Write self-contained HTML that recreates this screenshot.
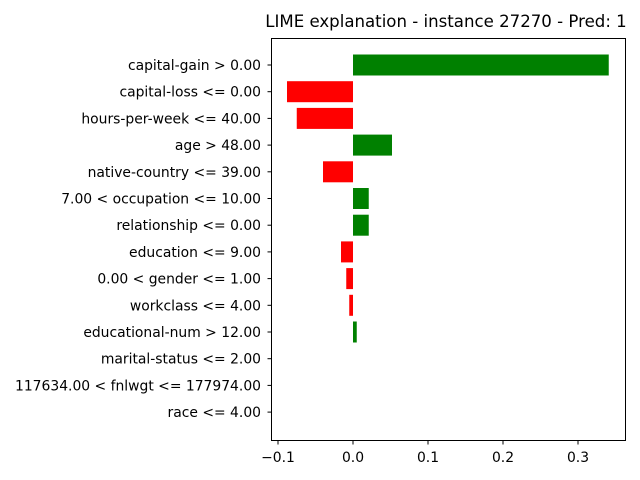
<!DOCTYPE html>
<html><head><meta charset="utf-8"><style>
html,body{margin:0;padding:0;background:#fff;}
svg{display:block;font-family:"DejaVu Sans","Liberation Sans",sans-serif;}
</style></head><body>
<svg id="chart" width="640" height="480" xmlns="http://www.w3.org/2000/svg">
<text x="446" y="27" font-size="16.6" text-anchor="middle">LIME explanation - instance 27270 - Pred: 1</text>
<g id="bars"></g>
<g id="yticks"></g>
<g id="xticks"></g>
<rect x="271.5" y="38.5" width="354" height="402" fill="none" stroke="#000" stroke-width="1"/>
</svg>
<script>
const features = ["capital-gain > 0.00","capital-loss <= 0.00","hours-per-week <= 40.00","age > 48.00","native-country <= 39.00","7.00 < occupation <= 10.00","relationship <= 0.00","education <= 9.00","0.00 < gender <= 1.00","workclass <= 4.00","educational-num > 12.00","marital-status <= 2.00","117634.00 < fnlwgt <= 177974.00","race <= 4.00"];
const weights = [0.341,-0.088,-0.075,0.052,-0.040,0.021,0.021,-0.016,-0.009,-0.005,0.005,0,0,0];
const xTicks = [-0.1,0.0,0.1,0.2,0.3];
const xTickLabels = ["\u22120.1","0.0","0.1","0.2","0.3"];
const NS="http://www.w3.org/2000/svg";
function xS(v){return 353+v*750;}
function yS(i){return 65+i*26.7;}
const bars=document.getElementById('bars'),yt=document.getElementById('yticks'),xt=document.getElementById('xticks');
features.forEach((f,i)=>{
  const w=weights[i];
  const r=document.createElementNS(NS,'rect');
  r.setAttribute('x',Math.min(xS(0),xS(w)));
  r.setAttribute('y',yS(i)-10.5);
  r.setAttribute('width',Math.abs(xS(w)-xS(0)));
  r.setAttribute('height',21);
  r.setAttribute('fill',w>0?'#008000':'#ff0000');
  
  
  bars.appendChild(r);
  const l=document.createElementNS(NS,'line');
  l.setAttribute('x1',267.5);l.setAttribute('x2',271.5);
  l.setAttribute('y1',yS(i));l.setAttribute('y2',yS(i));
  l.setAttribute('stroke','#000');
  yt.appendChild(l);
  const t=document.createElementNS(NS,'text');
  t.setAttribute('x',261);t.setAttribute('y',yS(i)+5);
  t.setAttribute('text-anchor','end');t.setAttribute('font-size','13.9');
  t.textContent=f;
  
  
  yt.appendChild(t);
});
xTicks.forEach((v,i)=>{
  const x=xS(v);
  const l=document.createElementNS(NS,'line');
  l.setAttribute('x1',x);l.setAttribute('x2',x);
  l.setAttribute('y1',440.5);l.setAttribute('y2',444.5);
  l.setAttribute('stroke','#000');
  xt.appendChild(l);
  const t=document.createElementNS(NS,'text');
  t.setAttribute('x',x);t.setAttribute('y',462);
  t.setAttribute('text-anchor','middle');t.setAttribute('font-size','13.9');
  t.textContent=xTickLabels[i];
  
  
  xt.appendChild(t);
});
</script>
</body></html>
